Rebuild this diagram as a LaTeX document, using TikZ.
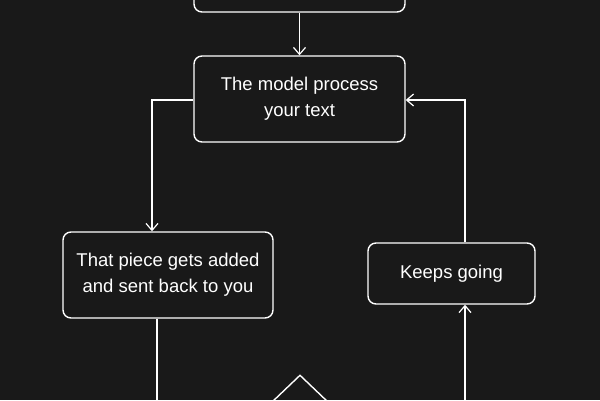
\documentclass[tikz,border=0pt]{standalone}
\usepackage{fontspec}
\setmainfont{Liberation Sans}
\usetikzlibrary{arrows.meta,shapes.geometric}
\definecolor{bg}{HTML}{191919}
\begin{document}
\begin{tikzpicture}[x=1pt,y=-1pt,
  box/.style={draw=white,line width=1.4pt,rounded corners=8pt,fill=bg,text=white,
    font=\fontsize{18.5}{26}\selectfont,align=center,inner sep=0pt},
  conn/.style={draw=white,line width=1.4pt},
  arr/.style={conn,-{Straight Barb[length=7pt,width=12pt,line width=1.2pt]}}]
\fill[bg] (0,0) rectangle (600,400);
\useasboundingbox (0,0) rectangle (600,400);
\clip (0,0) rectangle (600,400);
\node[box,minimum width=211pt,minimum height=86pt] (top) at (299.5,-31) {};
\node[box,minimum width=211pt,minimum height=86pt] (model) at (299.5,99) {The model process\\your text};
\node[box,minimum width=210pt,minimum height=86pt] (piece) at (168,275) {That piece gets added\\and sent back to you};
\node[box,minimum width=167pt,minimum height=61pt] (keeps) at (451.5,273.5) {Keeps going};
\node[draw=white,line width=1.4pt,diamond,minimum width=136pt,minimum height=130pt,inner sep=0pt] (dec) at (300,440) {};
\coordinate (c1) at (152,100);
\coordinate (c2) at (465,100);
\coordinate (b1) at (157,410);
\coordinate (b2) at (465,410);
\draw[arr] (top.south) -- (model.north);
\draw[arr] (model.west |- c1) -- (c1) -- (c1 |- piece.north);
\draw[arr] (c2 |- keeps.north) -- (c2) -- (model.east |- c2);
\draw[conn] (b1 |- piece.south) -- (b1);
\draw[arr] (b2) -- (b2 |- keeps.south);
\end{tikzpicture}
\end{document}
